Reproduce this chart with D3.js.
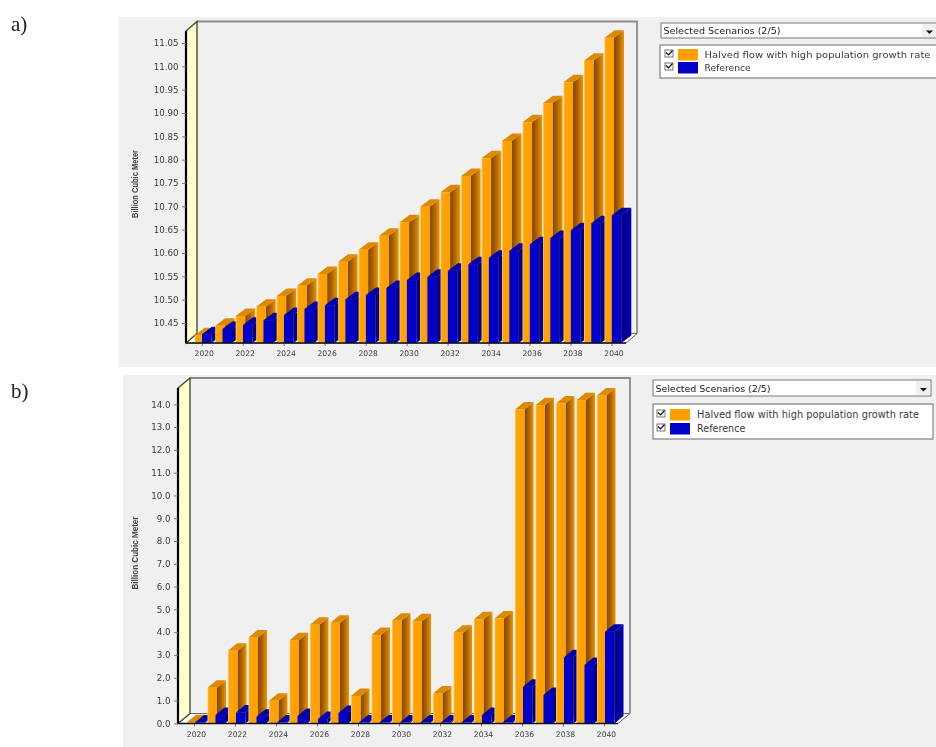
<!DOCTYPE html>
<html><head><meta charset="utf-8">
<script src="https://cdnjs.cloudflare.com/ajax/libs/d3/7.8.5/d3.min.js"></script>
<style>html,body{margin:0;padding:0;background:#fff;overflow:hidden}svg{display:block;filter:blur(0.45px)}</style>
</head><body><svg id="c" width="936" height="747"></svg>
<script>
const years = d3.range(2020, 2041);
const seriesNames = ["Halved flow with high population growth rate", "Reference"];
const seriesColors = ["#ffa000", "#0000c8"];
const xTickYears = years.filter(y => y % 2 === 0);
const scenarioLabel = "Selected Scenarios (2/5)";
const unitLabel = "Billion Cubic Meter";

const halvedA = [10.424,10.444,10.465,10.485,10.508,10.530,10.555,10.581,10.607,10.637,10.666,10.699,10.730,10.765,10.803,10.840,10.880,10.921,10.966,11.012,11.061];
const referenceA = [10.426,10.437,10.446,10.456,10.467,10.480,10.488,10.501,10.510,10.525,10.542,10.549,10.562,10.576,10.590,10.605,10.619,10.632,10.649,10.664,10.681];
const yTicksA = [10.45,10.50,10.55,10.60,10.65,10.70,10.75,10.80,10.85,10.90,10.95,11.00,11.05];

const halvedB = [0.05,1.56,3.18,3.77,0.99,3.65,4.32,4.41,1.20,3.87,4.50,4.48,1.31,3.97,4.57,4.60,13.77,13.96,14.03,14.18,14.39];
const referenceB = [0.04,0.36,0.47,0.29,0.03,0.32,0.19,0.45,0.03,0.03,0.03,0.03,0.03,0.03,0.36,0.03,1.60,1.24,2.90,2.56,4.02];
const yTicksB = [0,1,2,3,4,5,6,7,8,9,10,11,12,13,14];

const svg = d3.select("#c");
const defs = svg.append("defs");
function grad(id, stops){
  const g = defs.append("linearGradient").attr("id", id);
  stops.forEach(s => g.append("stop").attr("offset", s[0]).attr("stop-color", s[1]));
}
grad("oFront", [[0,"#ffcf70"],[0.14,"#ffa406"],[1,"#ff9e00"]]);
grad("oSide", [[0,"#7f4400"],[0.5,"#b06600"],[1,"#f09400"]]);
grad("bFront", [[0,"#0000d0"],[1,"#0000c4"]]);
grad("bSide", [[0,"#000088"],[1,"#0000a8"]]);
const fills = [
  {front:"url(#oFront)", side:"url(#oSide)", top:"#dd8a00"},
  {front:"url(#bFront)", side:"url(#bSide)", top:"#0000b0"}
];

function panel(cfg){
  const g = svg.append("g");
  g.append("rect").attr("x",cfg.px).attr("y",cfg.py).attr("width",936-cfg.px).attr("height",cfg.pb-cfg.py).attr("fill","#f0f0f0");
  g.append("text").attr("x",11).attr("y",cfg.letterY).attr("font-family","Liberation Serif").attr("font-size",21).attr("fill","#222").text(cfg.letter);

  const y = d3.scaleLinear().domain(cfg.yd).range(cfg.yr);
  const x = d3.scalePoint().domain(years).range(cfg.xr);
  const dx = cfg.dx, dy = cfg.dy, wx = cfg.wx, wy = cfg.wy;
  const L = cfg.axisX, R = cfg.axisR, B = cfg.axisB, T = cfg.axisT;

  g.append("path").attr("d",`M${L},${B}L${L+wx},${B-wy}L${R+wx},${B-wy}L${R},${B}Z`).attr("fill","#fff").attr("stroke","#555").attr("stroke-width",0.9);
  g.append("path").attr("d",`M${L+wx},${T-wy}L${R+wx},${T-wy}L${R+wx},${B-wy}`).attr("fill","none").attr("stroke","#8a8a8a").attr("stroke-width",1.8);
  g.append("path").attr("d",`M${L},${T}L${L+wx},${T-wy}L${L+wx},${B-wy}L${L},${B}Z`).attr("fill","#ffffcc").attr("stroke","#4a4a38").attr("stroke-width",1.4);
  g.append("line").attr("x1",L).attr("x2",L).attr("y1",T).attr("y2",B).attr("stroke","#000").attr("stroke-width",2.2);

  const w = 9.5, baseY = B;
  years.forEach((yr,i) => {
    cfg.series.forEach((vals,s) => {
      const x0 = x(yr) + cfg.off[s], x1 = x0 + w, t = y(vals[i]);
      const b = g.append("g");
      b.append("path").attr("d",`M${x1},${t}L${x1+dx},${t-dy}L${x1+dx},${baseY-dy}L${x1},${baseY}Z`).attr("fill",fills[s].side);
      b.append("path").attr("d",`M${x0},${t}L${x0+dx},${t-dy}L${x1+dx},${t-dy}L${x1},${t}Z`).attr("fill",fills[s].top);
      b.append("rect").attr("x",x0).attr("y",t).attr("width",w).attr("height",Math.max(0,baseY-t)).attr("fill",fills[s].front);
    });
  });

  const ay = g.append("g").attr("transform",`translate(${L},0)`)
    .call(d3.axisLeft(y).tickValues(cfg.ticks).tickSize(4).tickPadding(3.5).tickFormat(d3.format(cfg.fmt)));
  ay.select(".domain").remove();
  ay.selectAll("line").attr("stroke","#777");
  ay.selectAll("text").attr("font-family","DejaVu Sans").attr("font-size",8.7).attr("fill","#3a3a3a");

  const ax = g.append("g").attr("transform",`translate(0,${B})`)
    .call(d3.axisBottom(x).tickValues(xTickYears).tickSize(3).tickPadding(5).tickFormat(d3.format("d")));
  ax.select(".domain").remove();
  ax.selectAll("line").attr("stroke","#777");
  ax.selectAll("text").attr("font-family","DejaVu Sans").attr("font-size",7.6).attr("fill","#3a3a3a").attr("dx",2);

  g.append("line").attr("x1",L).attr("x2",R).attr("y1",B).attr("y2",B).attr("stroke","#111").attr("stroke-width",1.5);

  g.append("text").attr("transform",`translate(${cfg.ulx},${cfg.uly}) rotate(-90)`).attr("text-anchor","middle")
    .attr("font-family","Liberation Sans").attr("font-size",9).attr("font-weight","bold").attr("fill","#444")
    .attr("textLength",cfg.ulw).attr("lengthAdjust","spacingAndGlyphs").text(unitLabel);

  const dd = cfg.dd;
  g.append("rect").attr("x",dd.x).attr("y",dd.y).attr("width",dd.w).attr("height",dd.h).attr("fill","#fff").attr("stroke","#777").attr("stroke-width",1);
  g.append("text").attr("x",dd.x+2.5).attr("y",dd.y+dd.h-4).attr("font-family","DejaVu Sans").attr("font-size",dd.fs).attr("fill","#222")
    .attr("textLength",dd.tw).attr("lengthAdjust","spacingAndGlyphs").text(scenarioLabel);
  g.append("rect").attr("x",dd.bx).attr("y",dd.y+1).attr("width",14).attr("height",dd.h-2).attr("fill","#f0f0f0");
  g.append("path").attr("d",`M${dd.bx+4},${dd.y+dd.h/2}h7l-3.5,3.5z`).attr("fill","#111");

  const lg = cfg.lg;
  g.append("rect").attr("x",lg.x).attr("y",lg.y).attr("width",lg.w).attr("height",lg.h).attr("fill","#fff").attr("stroke","#777").attr("stroke-width",1.1);
  seriesNames.forEach((n,i) => {
    const yy = lg.rows[i];
    g.append("rect").attr("x",lg.cx).attr("y",yy).attr("width",8).attr("height",7).attr("fill","#fff").attr("stroke","#555").attr("stroke-width",0.8);
    g.append("path").attr("d",`M${lg.cx+1},${yy+2.5}l2.5,2.5l4,-4.5`).attr("fill","none").attr("stroke","#111").attr("stroke-width",1.2);
    g.append("rect").attr("x",lg.sx).attr("y",yy-1).attr("width",lg.sw).attr("height",11.5).attr("fill",seriesColors[i]);
    const t = g.append("text").attr("x",lg.tx).attr("y",yy+8).attr("font-family","DejaVu Sans").attr("font-size",lg.fs).attr("fill","#3a3a3a").text(n);
    if(i===0) t.attr("textLength",lg.tw).attr("lengthAdjust","spacingAndGlyphs");
  });
}

panel({letter:"a)", letterY:31, px:119, py:17, pb:367,
  yd:[10.45,11.05], yr:[323,43], xr:[201.7,611.5], dx:10, dy:7.5, wx:11, wy:9.5,
  axisX:186, axisR:626, axisB:343, axisT:31, ticks:yTicksA, fmt:".2f",
  series:[halvedA,referenceA], off:[-7,0.3],
  ulx:138, uly:184, ulw:68,
  dd:{x:661,y:23,w:290,h:15,fs:9,tw:117,bx:922},
  lg:{x:660,y:45,w:290,h:33,rows:[50,63],cx:665,sx:678,sw:20,tx:704.5,fs:9.2,tw:226}
});
panel({letter:"b)", letterY:398, px:123, py:375, pb:747,
  yd:[0,14], yr:[723.3,404.3], xr:[194,604], dx:9, dy:7.5, wx:12, wy:10,
  axisX:178, axisR:618, axisB:723.5, axisT:388, ticks:yTicksB, fmt:".1f",
  series:[halvedB,referenceB], off:[-7,1],
  ulx:138, uly:553, ulw:73,
  dd:{x:653,y:380,w:278,h:16,fs:9.2,tw:115,bx:916},
  lg:{x:653,y:404,w:280,h:35,rows:[410,424],cx:657,sx:670,sw:20,tx:697,fs:9.6,tw:222}
});
</script></body></html>
